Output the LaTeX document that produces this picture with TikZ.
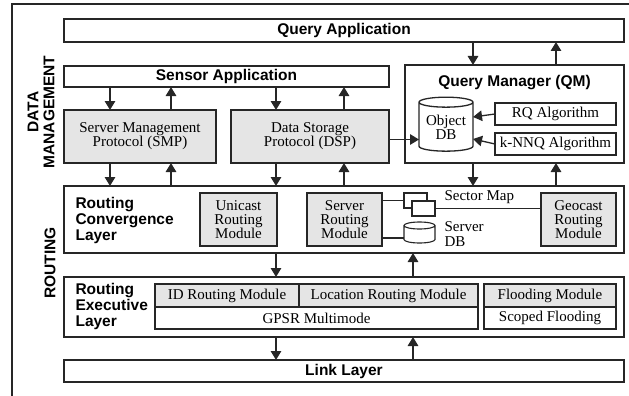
\documentclass[tikz,border=0pt]{standalone}
\usepackage{fontspec}
\setmainfont{Liberation Serif}
\setsansfont{Liberation Sans}
\usetikzlibrary{arrows.meta,shapes.geometric}
\definecolor{module gray}{gray}{0.9}
\colorlet{box edge}{black!85}
\newcommand\headfont{\fontsize{15.5}{16}\sffamily\bfseries\selectfont}
\newcommand\bodyfont{\fontsize{15}{14.2}\rmfamily\selectfont}
\tikzset{frame/.style={draw=box edge, line width=1.3pt, inner sep=0pt, outer sep=0pt},
    layer/.style={frame, fill=white, font=\headfont},
    module/.style={frame, fill=module gray, font=\bodyfont, align=center},
    plainbox/.style={frame, fill=white, font=\bodyfont, align=center},
    store/.style={frame, fill=white, cylinder, shape border rotate=90, aspect=0.25,
        font=\bodyfont, align=center},
    flow/.style={draw=box edge, line width=1.3pt, -{Triangle[length=9pt,width=10.5pt]}},
    link/.style={draw=box edge, line width=1.1pt}}

\begin{document}
\begin{tikzpicture}[x=1pt, y=-1pt]
    \useasboundingbox (0,0) rectangle (629,396);
    \draw[line width=1.2pt, box edge] (12,396) -- (12,4) -- (629,4);

    % data management
    \node[layer, minimum width=560pt, minimum height=23pt] (qapp) at (344,30.5) {Query Application};
    \node[layer, minimum width=325pt, minimum height=21pt] (sensor) at (226.5,76.5) {Sensor Application};
    \node[layer, minimum width=219pt, minimum height=98pt] (qm) at (514.5,114) {};
    \node[font=\headfont] (qmtitle) at (514.5,83) {Query Manager (QM)};
    \node[module, minimum width=152pt, minimum height=53pt] (smp) at (140,136.5)
      {Server Management\\Protocol (SMP)};
    \node[module, minimum width=158pt, minimum height=53pt] (dsp) at (310,136.5)
      {Data Storage\\Protocol (DSP)};
    \node[store, minimum width=54pt, minimum height=54pt] (odb) at (446,127) {Object\\DB};
    \node[plainbox, minimum width=121pt, minimum height=22pt] (rq) at (555.5,114) {RQ Algorithm};
    \node[plainbox, minimum width=121pt, minimum height=22pt] (knnq) at (555.5,144) {k-NNQ Algorithm};

    % routing
    \node[layer, minimum width=560pt, minimum height=67pt] (rcl) at (344,219.5) {};
    \node[anchor=west, font=\headfont, align=left] (rcltext) at (72,220)
      {Routing\\Convergence\\Layer};
    \node[module, minimum width=77pt, minimum height=53pt] (ucast) at (238.5,219.5)
      {Unicast\\Routing\\Module};
    \node[module, minimum width=75pt, minimum height=53pt] (srm) at (344.5,219.5)
      {Server\\Routing\\Module};
    \node[module, minimum width=75pt, minimum height=53pt] (geo) at (578.5,219.5)
      {Geocast\\Routing\\Module};
    \node[plainbox, minimum width=23pt, minimum height=15pt] (sm1) at (415.5,200.5) {};
    \node[plainbox, minimum width=23pt, minimum height=15pt] (sm2) at (423.5,208.5) {};
    \node[inner sep=0pt, outer sep=0pt, minimum width=31pt, minimum height=21pt] (sdb) at (419.5,232.5) {};
    \draw[link, fill=white] ([yshift=-3.5pt]sdb.north west) -- ([yshift=3.5pt]sdb.south west)
      arc[start angle=180, end angle=360, x radius=15.5pt, y radius=3.5pt]
      -- ([yshift=-3.5pt]sdb.north east)
      arc[start angle=0, end angle=360, x radius=15.5pt, y radius=3.5pt];
    \node[anchor=west, font=\bodyfont] (smtext) at (441,197) {Sector Map};
    \node[anchor=west, font=\bodyfont, align=left] (sdbtext) at (441,234) {Server\\DB};

    \node[layer, minimum width=560pt, minimum height=60pt] (rel) at (344,307) {};
    \node[anchor=west, font=\headfont, align=left] (reltext) at (72,306.5)
      {Routing\\Executive\\Layer};
    \node[module, minimum width=144pt, minimum height=23pt] (idr) at (227,295.5) {ID Routing Module};
    \node[module, minimum width=179pt, minimum height=23pt] (locr) at (388.5,295.5) {Location Routing Module};
    \node[plainbox, minimum width=323pt, minimum height=22pt] (gpsr) at (316.5,318) {GPSR Multimode};
    \node[module, minimum width=132pt, minimum height=23pt] (flood) at (550,295.5) {Flooding Module};
    \node[plainbox, minimum width=132pt, minimum height=22pt] (scoped) at (550,318) {Scoped Flooding};

    \node[layer, minimum width=560pt, minimum height=22pt] (link) at (344,371) {Link Layer};

    \node[font=\headfont, rotate=90, align=center] (dmlabel) at (41,112) {DATA\\MANAGEMENT};
    \node[font=\headfont, rotate=90] (rtlabel) at (50,263) {ROUTING};

    % arrows
    \draw[flow] (sensor.south -| 110,0) -- (smp.north -| 110,0);
    \draw[flow] (smp.north -| 171,0) -- (sensor.south -| 171,0);
    \draw[flow] (sensor.south -| 276,0) -- (dsp.north -| 276,0);
    \draw[flow] (dsp.north -| 344,0) -- (sensor.south -| 344,0);
    \draw[flow] (qapp.south -| 473,0) -- (qm.north -| 473,0);
    \draw[flow] (qm.north -| 556,0) -- (qapp.south -| 556,0);

    \draw[flow] (smp.south -| 110,0) -- (rcl.north -| 110,0);
    \draw[flow] (rcl.north -| 171,0) -- (smp.south -| 171,0);
    \draw[flow] (dsp.south -| 276,0) -- (rcl.north -| 276,0);
    \draw[flow] (rcl.north -| 344,0) -- (dsp.south -| 344,0);
    \draw[flow] (qm.south -| 473,0) -- (rcl.north -| 473,0);
    \draw[flow] (rcl.north -| 556,0) -- (qm.south -| 556,0);

    \draw[flow] (rcl.south -| 276,0) -- (rel.north -| 276,0);
    \draw[flow] (rel.north -| 413,0) -- (rcl.south -| 413,0);
    \draw[flow] (rel.south -| 276,0) -- (link.north -| 276,0);
    \draw[flow] (link.north -| 413,0) -- (rel.south -| 413,0);

    \draw[flow] ([yshift=-3pt]dsp.east) -- ([yshift=-3pt]dsp.east -| odb.west);
    \draw[flow] (rq.west) -- ([yshift=10pt]odb.east);
    \draw[flow] (knnq.west) -- ([yshift=-12pt]odb.east);

    \draw[link] (sm1.west -| srm.east) -- (sm1.west);
    \draw[link] (sm2.east) -- (sm2.east -| geo.west);
    \draw[link] ([yshift=-5.5pt]sdb.west -| srm.east) -- ([yshift=-5.5pt]sdb.west);
\end{tikzpicture}
\end{document}
